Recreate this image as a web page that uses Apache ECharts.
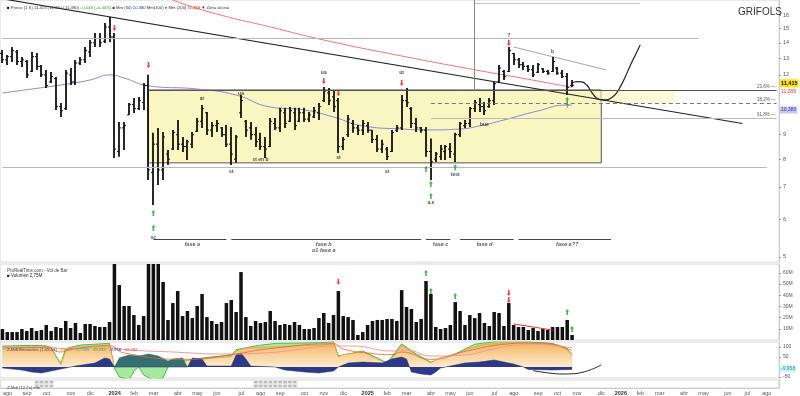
<!DOCTYPE html>
<html><head><meta charset="utf-8">
<script src="https://cdn.jsdelivr.net/npm/echarts@6/dist/echarts.min.js"></script>
<style>html,body{margin:0;padding:0;background:#fff}#c{width:800px;height:396px}</style>
</head><body><div id="c"></div>
<script>
// ---------- categories (weekly bars) ----------
const startWeek = [2023, 6, 24];   // Monday 24 Jul 2023
const nWeeks = 160;
const monthNames = ['ene','feb','mar','abr','may','jun','jul','ago','sep','oct','nov','dic'];

// ---------- weekly OHLC (EUR) ----------
const opens  = [13.3,12.9,13.1,13.4,12.8,12.8,12.2,13.1,12.5,12.0,11.6,11.8,10.3,10.2,12.0,11.6,12.7,12.9,13.4,14.0,14.3,14.1,15.1,14.4,8.3,9.3,9.9,10.4,10.2,10.5,11.4,7.5,8.6,7.6,8.2,8.4,9.0,8.6,8.5,8.6,9.15,9.6,10.0,9.2,9.4,9.3,9.0,8.6,8.0,10.0,9.6,9.3,9.0,8.8,8.5,8.5,9.5,9.3,10.0,9.6,10.0,9.6,10.0,9.7,9.8,10.0,10.6,11.0,10.8,10.6,8.5,9.0,9.5,9.3,9.2,9.4,9.2,8.8,8.4,8.4,8.3,9.2,9.3,10.6,10.2,9.5,9.3,9.2,8.3,8.0,8.1,8.3,8.4,8.2,9.0,9.4,9.5,10.2,10.4,10.3,10.3,10.6,11.6,12.2,12.2,13.3,12.9,12.6,12.5,12.3,12.15,12.35,12.2,12.2,12.4,12.1,11.9,11.4];
const highs  = [13.53,13.21,13.72,13.53,13.08,12.89,13.40,13.33,12.58,12.29,12.17,11.88,10.48,12.29,12.41,12.89,13.08,13.72,14.19,14.68,14.68,15.40,15.85,14.68,9.57,9.57,10.48,10.74,10.79,11.54,12.00,9.08,9.30,9.12,8.36,9.21,9.66,8.90,8.78,9.12,9.75,10.38,10.04,9.57,9.66,9.34,9.43,9.34,8.99,10.89,9.66,9.57,9.34,9.08,8.90,9.75,9.75,10.24,10.24,10.28,10.24,10.24,10.24,10.04,10.28,10.48,11.32,11.27,11.16,10.74,8.90,9.90,9.66,9.43,9.66,9.57,9.21,8.99,8.78,8.48,9.21,9.43,10.89,11.27,10.28,9.75,9.34,9.34,8.84,8.28,8.57,8.57,8.65,9.08,9.57,9.66,10.28,10.64,10.74,10.53,10.74,11.60,12.58,12.29,13.72,13.33,13.02,12.77,12.58,12.58,12.71,12.41,12.29,13.08,12.47,12.29,12.11,11.71];
const lows   = [12.71,12.58,12.77,12.58,12.47,11.82,12.17,12.29,11.88,11.27,11.54,10.14,9.80,10.14,11.43,11.43,12.58,12.71,13.08,13.72,13.72,13.99,14.06,8.05,8.09,8.36,9.90,9.99,10.14,10.14,7.24,6.42,7.07,7.24,7.78,8.36,8.36,8.28,7.97,8.44,9.12,9.30,8.99,8.90,9.12,8.90,8.48,7.78,7.86,9.75,8.90,8.78,8.48,8.36,8.05,8.48,9.21,9.12,9.30,9.57,9.21,9.57,9.57,9.57,9.75,9.66,10.53,10.38,10.04,8.24,8.36,8.90,9.08,8.99,8.99,9.08,8.65,8.28,8.24,7.97,8.28,9.12,9.21,10.28,9.30,9.12,9.08,8.09,7.24,7.89,7.97,7.97,8.05,7.89,8.90,9.30,9.34,10.04,10.04,9.90,10.24,10.38,11.54,11.71,12.17,12.58,12.41,12.29,12.17,11.88,12.11,12.11,12.00,12.17,12.00,11.82,10.89,11.32];
const closes = [12.9,13.1,13.5,12.8,12.9,12.0,13.1,12.5,12.0,11.4,11.9,10.3,10.1,12.1,11.6,12.7,12.9,13.5,14.0,14.3,14.0,15.1,14.4,8.4,9.3,9.4,10.4,10.2,10.6,11.4,7.6,8.6,7.6,8.9,8.0,9.1,8.6,8.5,8.7,9.0,9.6,10.2,9.2,9.4,9.5,9.0,8.6,8.2,8.9,10.6,9.2,9.0,8.7,8.5,8.4,9.6,9.3,10.1,9.5,10.1,9.4,10.0,9.7,9.9,10.1,10.3,11.1,10.6,10.3,8.5,8.8,9.7,9.3,9.2,9.5,9.2,8.8,8.4,8.6,8.1,9.1,9.3,10.6,10.5,9.5,9.3,9.2,8.3,7.9,8.2,8.4,8.5,8.3,9.0,9.5,9.5,10.2,10.5,10.3,10.1,10.6,11.5,12.4,11.9,13.5,12.9,12.6,12.5,12.3,12.0,12.6,12.2,12.1,12.8,12.1,11.9,11.3,11.415];

// ---------- weekly volume (millions) ----------
const volumes = [9.8,7.1,7.1,7.1,9.8,8.0,10.7,8.0,8.9,13.4,8.0,11.6,10.7,17.0,10.7,15.2,6.3,14.3,14.3,12.5,11.6,11.6,16.1,95,49.1,30.4,30.4,22.3,13.4,21.4,120,110,85,51.8,17.9,33.0,43.8,21.4,25.9,19.6,30.4,41.1,20.5,17.0,14.3,16.1,33.0,35.7,25.0,60.7,20.5,12.5,17.0,15.2,16.1,25.9,17.0,13.4,14.3,13.4,16.1,13.4,9.8,9.8,10.7,19.6,24.1,15.2,22.3,43.8,21.4,20.5,17.9,4.5,7.1,13.4,17.0,17.9,17.9,18.8,18.8,17.0,44.6,29.5,27.7,16.1,18.8,52.7,41.1,11.6,9.8,10.7,13.4,33.9,25.9,13.4,22.3,19.6,24.1,15.2,12.5,25.0,24.1,12.5,33.0,13.4,11.6,11.6,8.9,10.7,8.0,9.8,8.9,11.6,11.6,11.6,17.9,4.5];

// ---------- moving averages / lines: [week index, price] ----------
const ma50  = [[0,11.0],[6,11.21],[12,11.43],[18,11.71],[22,12.0],[25,11.82],[30,11.38],[40,11.21],[48,10.89],[55,10.28],[62,10.14],[68,9.80],[74,9.39],[82,9.25],[88,9.21],[94,9.25],[98,9.39],[103,9.66],[110,10.09],[116,10.38],[117,10.38]];
const ma200 = [[33,17.6],[36,17.04],[44,16.08],[55,15.11],[66,14.19],[82,13.14],[96,12.35],[110,11.65],[117,11.29]];
const trendLine   = [[0,17.3],[152,9.50]];
const channelTop  = [[105,13.72],[124,12.29]];
const projection  = [[117,11.54],[118,11.62],[119,11.60],[120,11.43],[121,11.05],[122,10.74],[123,10.64],[124,10.64],[125,10.74],[126,10.95],[127,11.38],[128,11.94],[129,12.58],[130,13.21],[131,13.85]];

// horizontal levels (price)
const boxTop = 11.16, boxBottom = 7.86, fib2 = 10.48, fib3 = 9.75, resist = 14.33, support = 7.70, topLine = 16.95;
const fibLabels = ['23,6%','38,2%','61,8%'];
const priceTicks = [5,6,7,8,9,12,13,14,15,16];
const lastPrice = 11.415;
const lastMa200 = 11.288;
const lastMa50 = 10.38;

// markers [index, price]
const redMarks   = [[23,15.04],[30,12.58],[66,11.65],[69,11.0],[82,11.54],[104,13.99]];
const greenMarks = [[31,6.18],[31,5.75],[87,7.63],[88,7.10],[88,6.70],[93,7.70],[116,10.64]];
const notes = [['sc',31,5.50],['ar',41,10.69],['st',47,7.52],['ua',49,10.95],['st en b',53,7.97],['ua',66,12.11],['st',69,8.05],['ut',82,12.11],['st',79,7.52],['a.e',88,6.48],['test',93,7.42],['bue',99,9.43],['?',104,14.47],['b',113,13.40],['?',116,10.28]];
const phaseSpans = [[31,46],[47,86],[87,92],[94,105],[106,125]];
const phaseNames = [['fase a',39],['fase b',66],['fase c',90],['fase d',99],['fase e??',116]];
const phaseSub = [['o1 fase a',66]];

// volume markers [index, vol]
const volRed = [[69,52],[104,42],[104,35.7]];
const volGreen = [[87,59.8],[88,43.8],[93,39.3],[116,25],[117,9.8]];
const volTrend = [[105,14.3],[113,8.9]];
const volTicks = [10,20,30,40,50,60];

// oscillator panel [index, value]
const oscOrange = [[0,88],[3,92],[6,95],[9,100],[10,90],[11,50],[12,12],[13,80],[15,100],[18,102],[22,110],[23,2],[27,8],[28,30],[29,8],[33,4],[35,18],[38,32],[42,42],[47,52],[48,80],[50,95],[55,100],[60,105],[66,110],[68,122],[69,50],[70,62],[74,75],[77,40],[79,15],[80,40],[82,110],[85,60],[88,20],[90,48],[93,60],[95,85],[98,108],[101,118],[105,122],[108,120],[111,115],[114,108],[116,85],[117,60]];
const oscGreen  = [[0,105],[6,108],[9,106],[10,96],[11,55],[12,18],[13,92],[16,110],[22,118],[23,-5],[24,-50],[26,-65],[27,-20],[28,0],[29,-40],[31,-65],[33,-55],[34,0],[35,22],[42,48],[47,58],[48,86],[52,106],[56,118],[62,120],[66,122],[68,128],[69,55],[74,80],[77,45],[79,20],[82,116],[85,65],[88,24],[93,65],[97,114],[101,126],[108,126],[113,118],[116,90],[117,62]];
const oscNavy   = [[0,-5],[4,-15],[6,-25],[8,-30],[10,-20],[13,-5],[15,5],[19,20],[21,45],[22,40],[23,0],[38,0],[39,45],[41,40],[42,5],[47,5],[48,60],[49,70],[50,40],[51,5],[56,0],[58,-15],[62,-25],[65,-30],[68,-20],[69,0],[71,20],[74,25],[78,20],[80,40],[82,50],[83,40],[84,-25],[86,-35],[88,-40],[89,-25],[90,-5],[92,5],[95,20],[98,25],[101,35],[103,25],[105,15],[107,0],[108,-12],[113,-15],[117,-12]];
const oscTeal   = [[23,0],[24,45],[26,60],[28,55],[30,65],[32,55],[34,30],[35,40],[37,45],[38,0]];
const oscPink   = [[0,100],[10,100],[12,92],[22,95],[26,85],[35,75],[45,65],[55,72],[60,85],[68,105],[72,105],[80,80],[83,85],[88,55],[95,60],[100,85],[106,110],[110,112],[114,105],[117,95]];
const oscRed    = [[0,96],[9,98],[12,75],[14,88],[22,106],[25,70],[38,38],[47,62],[55,92],[68,116],[70,90],[75,70],[80,62],[82,75],[88,38],[95,78],[104,116],[108,120],[113,114],[117,80]];
const oscArc    = [[109,-18],[111,-26],[113,-32],[115,-35],[117,-34],[119,-27],[121,-12],[123,10]];
const oscTicks  = [100,50,-50];
const oscLast = -9.958;

// lower panel shaded weeks
const shadedWeeks = [7,8,9,10,52,53,54,55,56,57,58,59,60];

// ---------- build ----------
const LN = Math.log;
const DAY = 864e5;
const t0 = Date.UTC(startWeek[0], startWeek[1], startWeek[2]);
const cats = [];
for (let k = 0; k < nWeeks; k++) cats.push(new Date(t0 + k * 7 * DAY).toISOString().slice(0, 10));
function monthStart(idx) {
  const d = new Date(t0 + idx * 7 * DAY), e = new Date(t0 + (idx * 7 + 6) * DAY);
  if (d.getUTCDate() === 1) return d;
  if (e.getUTCMonth() !== d.getUTCMonth()) return e;
  return null;
}
const lp = a => a.map(p => [p[0], LN(p[1])]);
const FONT = 'Liberation Sans, Arial, sans-serif';
const CLEAR = 'rgba(0,0,0,0)';
const fmtES = v => v.toFixed(3).replace('.', ',');

const ohlc = closes.map((c, i) => [i, LN(opens[i]), LN(highs[i]), LN(lows[i]), LN(c)]);
const arrowUp = 'path://M5,0 L10,5 L7,5 L7,12 L3,12 L3,5 L0,5 Z';

function hline(p, a, b, color, type, width) {
  return [{coord: [a, LN(p)], lineStyle: {color: color, type: type || 'solid', width: width || 1}}, {coord: [b, LN(p)]}];
}

const guideLines = [
  hline(resist, 0, 143, '#b8b8b8'),
  hline(support, 0, 157, '#b8b8b8'),
  hline(topLine, 97, 131, '#c0c0c0'),
  hline(boxTop, 30, 159, '#555'),
  hline(fib2, 88, 159, '#777', [4, 3]),
  hline(fib3, 88, 159, '#bbb'),
  [{coord: [97, LN(17.2)], lineStyle: {color: '#888', width: 1, type: 'solid'}}, {coord: [97, LN(boxTop)]}]
];
phaseSpans.forEach(s => guideLines.push([{coord: [s[0], LN(5.45)], lineStyle: {color: '#444', width: 1, type: 'solid'}}, {coord: [s[1], LN(5.45)]}]));

const fibMarks = [[boxTop, fibLabels[0]], [fib2, fibLabels[1]], [fib3, fibLabels[2]]].map(f => [
  {coord: [150, LN(f[0])], lineStyle: {color: CLEAR, width: 0}, label: {show: true, position: 'insideEndTop', formatter: f[1] + ' ―', fontSize: 4.5, color: '#555', distance: 1}},
  {coord: [159, LN(f[0])]}
]);

const sideLabels = [
  {yAxis: LN(lastPrice), lineStyle: {color: CLEAR, width: 0}, label: {show: true, position: 'end', distance: 1, offset: [0, -3], formatter: fmtES(lastPrice), backgroundColor: '#ffe400', color: '#000', fontSize: 5.5, fontWeight: 'bold', padding: [1, 1]}},
  {yAxis: LN(lastMa200), lineStyle: {color: CLEAR, width: 0}, label: {show: true, position: 'end', distance: 2, offset: [0, 3], formatter: fmtES(lastMa200), color: '#e33', fontSize: 5}},
  {yAxis: LN(lastMa50), lineStyle: {color: CLEAR, width: 0}, label: {show: true, position: 'end', distance: 1, offset: [0, 5], formatter: fmtES(lastMa50), backgroundColor: '#c9c9f2', color: '#3333aa', fontSize: 5, padding: [1, 1]}}
];

const option = {
  animation: false,
  backgroundColor: '#fff',
  textStyle: {fontFamily: FONT},
  title: [
    {text: 'GRIFOLS', left: 733, top: 2, textStyle: {fontSize: 10, fontWeight: 'normal', color: '#333', fontFamily: FONT}},
    {text: '{k|■} Precio (1 S) 11,415 (11,300 / 11,490) {g|+0,045 (+0,40%)} {b|■} Mm (50) {b|10,380} Mm(100) {r|●} Mm (200) {r|11,288} ▼ Zona alcista',
     left: 2, top: 1, textStyle: {fontSize: 4.2, color: '#333', fontWeight: 'normal', rich: {k: {fontSize: 4.2, color: '#000'}, g: {fontSize: 4.2, color: '#2a2'}, b: {fontSize: 4.2, color: '#2233aa'}, r: {fontSize: 4.2, color: '#e22'}}}},
    {text: 'ProRealTime.com - Vol de Bar', left: 2, top: 263, textStyle: {fontSize: 4.5, color: '#444', fontWeight: 'normal'}},
    {text: '■ Volumen 2,75M', left: 2, top: 268, textStyle: {fontSize: 4.5, color: '#222', fontWeight: 'normal'}},
    {text: 'Z-Mdt Bmarveles (1,65,53)   {o|70,487}   {c|0,7505}   {g|49,632}   {n|-9,958}   {r|32,082}',
     left: 2, top: 343, textStyle: {fontSize: 4.2, color: '#444', fontWeight: 'normal', rich: {o: {fontSize: 4.2, color: '#d08020'}, c: {fontSize: 4.2, color: '#2aa'}, g: {fontSize: 4.2, color: '#3a3'}, n: {fontSize: 4.2, color: '#223388'}, r: {fontSize: 4.2, color: '#e44'}}}},
    {text: 'Z-Mdt (12,2x) mm', left: 2, top: 381, textStyle: {fontSize: 4.2, color: '#444', fontWeight: 'normal'}}
  ],
  grid: [
    {left: 0, top: 0, width: 779, height: 262, show: true, borderColor: '#d8d8d8', borderWidth: 1},
    {left: 0, top: 264, width: 779, height: 76, show: true, borderColor: '#d8d8d8', borderWidth: 1},
    {left: 0, top: 342, width: 779, height: 36, show: true, borderColor: '#d8d8d8', borderWidth: 1},
    {left: 0, top: 380, width: 779, height: 9, show: true, borderColor: '#d8d8d8', borderWidth: 1}
  ],
  xAxis: [0, 1, 2, 3].map(g => ({
    type: 'category', gridIndex: g, data: cats, boundaryGap: true,
    axisLine: {show: g === 3, lineStyle: {color: '#ccc'}}, axisTick: {show: false},
    splitLine: {show: false},
    axisLabel: g === 3 ? {
      show: true, fontSize: 5.5, color: '#555', margin: 2,
      interval: idx => !!monthStart(idx),
      formatter: (v, idx) => { const m = monthStart(idx); if (!m) return ''; return m.getUTCMonth() === 0 ? '{y|' + m.getUTCFullYear() + '}' : monthNames[m.getUTCMonth()]; },
      rich: {y: {fontSize: 5.5, fontWeight: 'bold', color: '#333'}}
    } : {show: false}
  })),
  yAxis: [
    {type: 'value', gridIndex: 0, position: 'right', min: LN(4.88), max: LN(17.2), splitLine: {show: false},
     axisLine: {show: true, lineStyle: {color: '#ccc'}},
     axisTick: {show: true, length: 2, customValues: priceTicks.map(LN), lineStyle: {color: '#999'}},
     axisLabel: {show: true, customValues: priceTicks.map(LN), formatter: v => String(Math.round(Math.exp(v))), fontSize: 5.5, color: '#555', margin: 4}},
    {type: 'value', gridIndex: 1, position: 'right', min: 0, max: 67.9, splitLine: {show: false},
     axisLine: {show: true, lineStyle: {color: '#ccc'}},
     axisTick: {show: true, length: 2, customValues: volTicks, lineStyle: {color: '#999'}},
     axisLabel: {show: true, customValues: volTicks, formatter: v => v + 'M', fontSize: 5, color: '#555', margin: 4}},
    {type: 'value', gridIndex: 2, position: 'right', min: -55, max: 125, splitLine: {show: false},
     axisLine: {show: true, lineStyle: {color: '#ccc'}},
     axisTick: {show: true, length: 2, customValues: oscTicks, lineStyle: {color: '#999'}},
     axisLabel: {show: true, customValues: oscTicks, fontSize: 5, color: '#555', margin: 4}},
    {type: 'value', gridIndex: 3, position: 'right', min: 0, max: 2, splitLine: {show: false}, axisLine: {show: true, lineStyle: {color: '#ccc'}}, axisTick: {show: false}, axisLabel: {show: false}}
  ],
  series: [
    // zones and guide lines
    {type: 'line', name: 'zones', xAxisIndex: 0, yAxisIndex: 0, data: [], z: 0, silent: true,
     markArea: {silent: true, data: [
       [{coord: [30, LN(boxTop)], itemStyle: {color: '#faf6c2', borderColor: '#555', borderWidth: 1}}, {coord: [123, LN(boxBottom)]}],
       [{coord: [123, LN(boxTop)], itemStyle: {color: '#fcfad6'}}, {coord: [138, LN(fib2)]}]
     ]},
     markLine: {silent: true, symbol: 'none', label: {show: false}, data: guideLines}},
    {type: 'line', name: 'labels', xAxisIndex: 0, yAxisIndex: 0, data: [], z: 8, silent: true,
     markLine: {silent: true, symbol: 'none', data: fibMarks.concat(sideLabels)}},
    {type: 'line', name: 'Mm50', xAxisIndex: 0, yAxisIndex: 0, data: lp(ma50), smooth: true, showSymbol: false, z: 2,
     lineStyle: {color: '#8a8ad0', width: 1}},
    {type: 'line', name: 'Mm200', xAxisIndex: 0, yAxisIndex: 0, data: lp(ma200), smooth: true, showSymbol: false, z: 2,
     lineStyle: {color: '#f47474', width: 1}},
    {type: 'line', name: 'trend', xAxisIndex: 0, yAxisIndex: 0, data: lp(trendLine), showSymbol: false, z: 3,
     lineStyle: {color: '#222', width: 1.1}},
    {type: 'line', name: 'channel', xAxisIndex: 0, yAxisIndex: 0, data: lp(channelTop), showSymbol: false, z: 3,
     lineStyle: {color: '#b0a0a8', width: 1}},
    {type: 'line', name: 'proj', xAxisIndex: 0, yAxisIndex: 0, data: lp(projection), smooth: true, showSymbol: false, z: 3,
     lineStyle: {color: '#222', width: 1.2}},
    {type: 'custom', name: 'precio', xAxisIndex: 0, yAxisIndex: 0, data: ohlc, z: 4,
     encode: {x: 0, y: [1, 2, 3, 4]},
     renderItem: function (params, api) {
       const i = api.value(0);
       const pO = api.coord([i, api.value(1)]), pH = api.coord([i, api.value(2)]), pL = api.coord([i, api.value(3)]), pC = api.coord([i, api.value(4)]);
       const x = Math.round(pH[0]);
       return {type: 'group', children: [
         {type: 'line', shape: {x1: x, y1: pH[1], x2: x, y2: pL[1]}, style: {stroke: '#111', lineWidth: 1.8}},
         {type: 'line', shape: {x1: x - 2, y1: pO[1], x2: x, y2: pO[1]}, style: {stroke: '#111', lineWidth: 1}},
         {type: 'line', shape: {x1: x, y1: pC[1], x2: x + 2, y2: pC[1]}, style: {stroke: '#111', lineWidth: 1}}
       ]};
     }},
    {type: 'scatter', name: 'red', xAxisIndex: 0, yAxisIndex: 0, data: lp(redMarks), symbol: arrowUp, symbolRotate: 180, symbolSize: [4, 6], itemStyle: {color: '#e01818'}, z: 6},
    {type: 'scatter', name: 'green', xAxisIndex: 0, yAxisIndex: 0, data: lp(greenMarks), symbol: arrowUp, symbolSize: [4, 6], itemStyle: {color: '#18a018'}, z: 6},
    {type: 'scatter', name: 'notes', xAxisIndex: 0, yAxisIndex: 0, symbolSize: 0, z: 7,
     data: notes.map(n => ({value: [n[1], LN(n[2])], name: n[0]}))
       .concat(phaseNames.map(n => ({value: [n[1], LN(5.30)], name: n[0], label: {fontStyle: 'italic', fontSize: 5.5, color: '#333'}})))
       .concat(phaseSub.map(n => ({value: [n[1], LN(5.15)], name: n[0], label: {fontStyle: 'italic', fontSize: 5.5, color: '#333'}}))),
     label: {show: true, position: 'inside', formatter: p => p.name, fontSize: 5, color: '#222', fontWeight: 'bold'}},

    // volume
    {type: 'bar', name: 'Volumen', xAxisIndex: 1, yAxisIndex: 1, data: volumes, barWidth: '72%', itemStyle: {color: '#111'}, z: 2},
    {type: 'line', name: 'vtrend', xAxisIndex: 1, yAxisIndex: 1, data: volTrend, showSymbol: false, lineStyle: {color: '#e33', width: 1}, z: 3},
    {type: 'scatter', name: 'vred', xAxisIndex: 1, yAxisIndex: 1, data: volRed, symbol: arrowUp, symbolRotate: 180, symbolSize: [4, 6], itemStyle: {color: '#e01818'}, z: 4},
    {type: 'scatter', name: 'vgreen', xAxisIndex: 1, yAxisIndex: 1, data: volGreen, symbol: arrowUp, symbolSize: [4, 6], itemStyle: {color: '#18a018'}, z: 4},

    // oscillator
    {type: 'line', name: 'oscG', xAxisIndex: 2, yAxisIndex: 2, data: oscGreen, showSymbol: false, z: 1,
     lineStyle: {color: '#4cba4c', width: 1}, areaStyle: {color: '#a6eaa0', opacity: 1}},
    {type: 'line', name: 'oscO', xAxisIndex: 2, yAxisIndex: 2, data: oscOrange, showSymbol: false, z: 2,
     lineStyle: {color: '#e8a040', width: 0.8},
     areaStyle: {opacity: 1, color: {type: 'linear', x: 0, y: 0, x2: 0, y2: 1, colorStops: [{offset: 0, color: '#f2b563'}, {offset: 0.7, color: '#fbdcae'}, {offset: 1, color: '#fdebd0'}]}}},
    {type: 'line', name: 'oscT', xAxisIndex: 2, yAxisIndex: 2, data: oscTeal, showSymbol: false, z: 3,
     lineStyle: {color: '#2f6a6a', width: 0.5}, areaStyle: {color: '#356f6f', opacity: 1}},
    {type: 'line', name: 'oscN', xAxisIndex: 2, yAxisIndex: 2, data: oscNavy, showSymbol: false, z: 3,
     lineStyle: {color: '#25306e', width: 0.5}, areaStyle: {color: '#2c3888', opacity: 1}},
    {type: 'line', name: 'oscP', xAxisIndex: 2, yAxisIndex: 2, data: oscPink, showSymbol: false, smooth: true, z: 4,
     lineStyle: {color: '#f39a9a', width: 1}},
    {type: 'line', name: 'oscR', xAxisIndex: 2, yAxisIndex: 2, data: oscRed, showSymbol: false, smooth: true, z: 4,
     lineStyle: {color: '#e8652a', width: 0.8}},
    {type: 'line', name: 'osclabel', xAxisIndex: 2, yAxisIndex: 2, data: [], z: 6, silent: true,
     markLine: {silent: true, symbol: 'none', data: [
       {yAxis: -10, lineStyle: {color: CLEAR, width: 0}, label: {show: true, position: 'end', distance: 1, formatter: fmtES(oscLast), backgroundColor: '#d6f3f3', color: '#1a9a9a', fontSize: 5, padding: [1, 1]}}
     ]}},
    {type: 'line', name: 'arc', xAxisIndex: 2, yAxisIndex: 2, data: oscArc, showSymbol: false, smooth: true, z: 5,
     lineStyle: {color: '#222', width: 1}},

    // lower panel
    {type: 'bar', name: 'z1', xAxisIndex: 3, yAxisIndex: 3, stack: 'z', data: shadedWeeks.map(i => [i, 1]), barWidth: '100%',
     itemStyle: {color: '#bdbdbd', borderColor: '#f4f4f4', borderWidth: 0.6}},
    {type: 'bar', name: 'z2', xAxisIndex: 3, yAxisIndex: 3, stack: 'z', data: shadedWeeks.map(i => [i, 1]), barWidth: '100%',
     itemStyle: {color: '#bdbdbd', borderColor: '#f4f4f4', borderWidth: 0.6}}
  ]
};

const chart = echarts.init(document.getElementById('c'), null, {renderer: 'canvas'});
chart.setOption(option);
</script>
</body></html>
